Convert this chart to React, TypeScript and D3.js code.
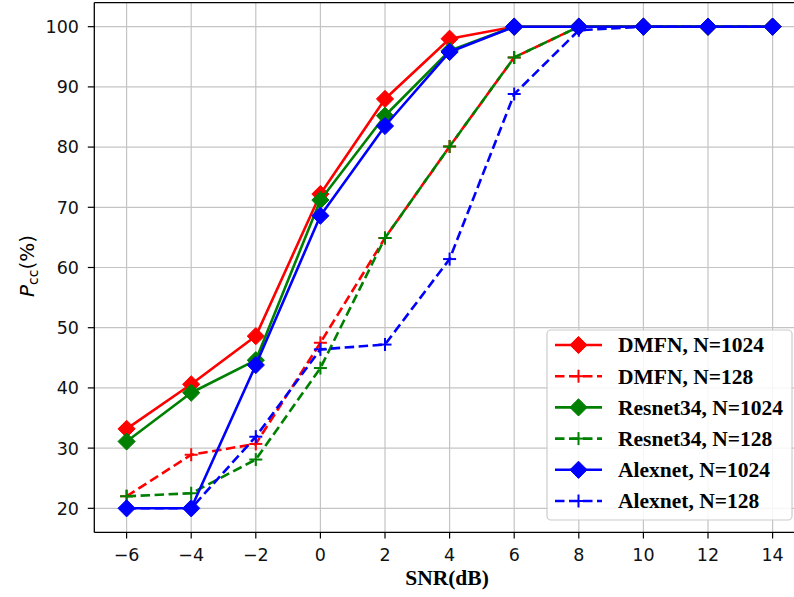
import React from "react";
import * as d3 from "d3";

const snr = [-6, -4, -2, 0, 2, 4, 6, 8, 10, 12, 14];
const dmfn1024 = [33.2, 40.6, 48.6, 72.2, 88.0, 98.0, 100, 100, 100, 100, 100];
const dmfn128 = [22.0, 28.9, 30.7, 47.5, 64.9, 80.1, 94.9, 100, 100, 100, 100];
const resnet1024 = [31.1, 39.2, 44.6, 71.2, 85.2, 96.0, 100, 100, 100, 100, 100];
const resnet128 = [22.0, 22.5, 28.1, 43.3, 64.9, 80.1, 94.9, 100, 100, 100, 100];
const alexnet1024 = [20, 20, 43.8, 68.6, 83.5, 95.8, 100, 100, 100, 100, 100];
const alexnet128 = [20, 20, 31.9, 46.4, 47.2, 61.4, 88.8, 99.4, 100, 100, 100];

const seriesNames = [
  "DMFN, N=1024",
  "DMFN, N=128",
  "Resnet34, N=1024",
  "Resnet34, N=128",
  "Alexnet, N=1024",
  "Alexnet, N=128",
];
const xTicks = [-6, -4, -2, 0, 2, 4, 6, 8, 10, 12, 14];
const yTicks = [20, 30, 40, 50, 60, 70, 80, 90, 100];

type S = { name: string; values: number[]; color: string; dashed: boolean };
const series: S[] = [
  { name: seriesNames[0], values: dmfn1024, color: "#ff0000", dashed: false },
  { name: seriesNames[1], values: dmfn128, color: "#ff0000", dashed: true },
  { name: seriesNames[2], values: resnet1024, color: "#008000", dashed: false },
  { name: seriesNames[3], values: resnet128, color: "#008000", dashed: true },
  { name: seriesNames[4], values: alexnet1024, color: "#0000ff", dashed: false },
  { name: seriesNames[5], values: alexnet128, color: "#0000ff", dashed: true },
];

const W = 794;
const H = 597;
const left = 94.3;
const top = 2.6;
const bottom = 532.4;
const x = d3.scaleLinear().domain([-7, 15]).range([left, left + 22 * 32.3]);
const y = d3.scaleLinear().domain([16, 104]).range([bottom, top]);

const D = 8.6; // half diagonal of diamond
const P = 6.5; // half size of plus

function Marker({ cx, cy, color, dashed }: { cx: number; cy: number; color: string; dashed: boolean }) {
  if (dashed) {
    return (
      <g stroke={color} strokeWidth={2}>
        <line x1={cx - P} x2={cx + P} y1={cy} y2={cy} />
        <line x1={cx} x2={cx} y1={cy - P} y2={cy + P} />
      </g>
    );
  }
  return (
    <path
      d={`M${cx},${cy - D}L${cx + D},${cy}L${cx},${cy + D}L${cx - D},${cy}Z`}
      fill={color}
      stroke={color}
      strokeWidth={1}
    />
  );
}

export default function App() {
  const line = d3
    .line<[number, number]>()
    .x((d) => x(d[0]))
    .y((d) => y(d[1]));

  const legX = 547;
  const legY = 330;
  const rowY = (i: number) => 345 + i * 31.2;

  return (
    <svg
      width={W}
      height={H}
      style={{ position: "absolute", left: 0, top: 0, background: "#fff" }}
      fontFamily="DejaVu Sans"
    >
      <rect x={0} y={0} width={W} height={H} fill="#fff" />
      <defs>
        <clipPath id="plot">
          <rect x={left} y={top} width={W - left + 20} height={bottom - top} />
        </clipPath>
      </defs>
      {/* grid */}
      <g stroke="#c4c4c4" strokeWidth={1.2}>
        {xTicks.map((t) => (
          <line key={"gx" + t} x1={x(t)} x2={x(t)} y1={top} y2={bottom} />
        ))}
        {yTicks.map((t) => (
          <line key={"gy" + t} x1={left} x2={W} y1={y(t)} y2={y(t)} />
        ))}
      </g>
      {/* series */}
      <g clipPath="url(#plot)">
        {series.map((s, si) => {
          const pts: [number, number][] = snr.map((v, i) => [v, s.values[i]]);
          return (
            <g key={si}>
              <path
                d={line(pts) || ""}
                fill="none"
                stroke={s.color}
                strokeWidth={2.6}
                strokeDasharray={s.dashed ? "9.5,4.5" : undefined}
                strokeLinejoin="round"
              />
              {pts.map((p, i) => (
                <Marker key={i} cx={x(p[0])} cy={y(p[1])} color={s.color} dashed={s.dashed} />
              ))}
            </g>
          );
        })}
      </g>
      {/* frame */}
      <g stroke="#000" strokeWidth={1.3} fill="none">
        <line x1={left} x2={left} y1={top} y2={bottom} />
        <line x1={left} x2={W} y1={top} y2={top} />
        <line x1={left} x2={W} y1={bottom} y2={bottom} />
      </g>
      {/* x ticks */}
      {xTicks.map((t) => (
        <g key={"xt" + t}>
          <line x1={x(t)} x2={x(t)} y1={bottom} y2={bottom + 6} stroke="#000" strokeWidth={1.2} />
          <text x={x(t)} y={561} textAnchor="middle" fontSize={17.5} fill="#111">
            {t < 0 ? "\u2212" + Math.abs(t) : String(t)}
          </text>
        </g>
      ))}
      {/* y ticks */}
      {yTicks.map((t) => (
        <g key={"yt" + t}>
          <line x1={left - 6.5} x2={left} y1={y(t)} y2={y(t)} stroke="#000" strokeWidth={1.2} />
          <text x={79} y={y(t) + 6.4} textAnchor="end" fontSize={17.5} fill="#111">
            {t}
          </text>
        </g>
      ))}
      {/* axis labels */}
      <text
        x={447}
        y={585}
        textAnchor="middle"
        fontFamily="Liberation Serif"
        fontWeight="bold"
        fontSize={21.5}
        fill="#000"
      >
        SNR(dB)
      </text>
      <text
        transform="translate(34,266) rotate(-90)"
        textAnchor="middle"
        fontSize={20}
        fill="#000"
      >
        <tspan fontStyle="italic">P</tspan>
        <tspan fontSize={14} dy={4}>cc</tspan>
        <tspan dy={-4}>(%)</tspan>
      </text>
      {/* legend */}
      <rect
        x={legX}
        y={legY}
        width={245}
        height={190}
        rx={4}
        fill="#fff"
        fillOpacity={0.85}
        stroke="#cccccc"
        strokeWidth={1.2}
      />
      {series.map((s, i) => {
        const cy = rowY(i);
        return (
          <g key={"lg" + i}>
            <line
              x1={555}
              x2={602}
              y1={cy}
              y2={cy}
              stroke={s.color}
              strokeWidth={2.6}
              strokeDasharray={s.dashed ? "9.5,4.5" : undefined}
            />
            <Marker cx={578.5} cy={cy} color={s.color} dashed={s.dashed} />
            <text
              x={618}
              y={cy + 7.3}
              fontFamily="Liberation Serif"
              fontWeight="bold"
              fontSize={21.5}
              fill="#000"
            >
              {s.name}
            </text>
          </g>
        );
      })}
    </svg>
  );
}
